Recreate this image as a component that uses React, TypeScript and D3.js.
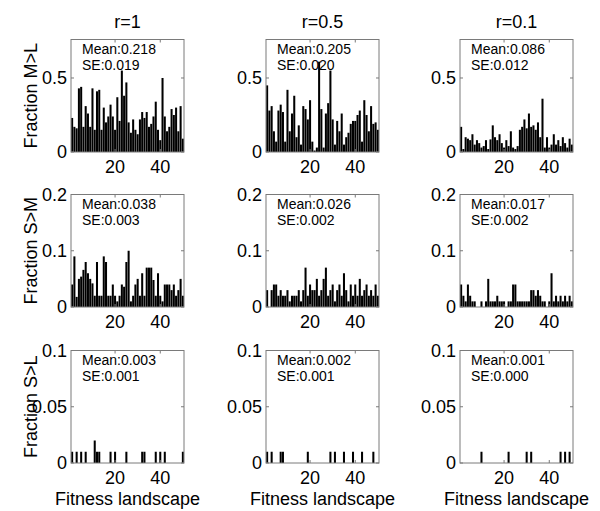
import * as d3 from "d3";

// fitness landscapes 1..50
const landscapes = d3.range(1, 51);

const columnTitles = ["r=1", "r=0.5", "r=0.1"];
const rowLabels = ["Fraction M>L", "Fraction S>M", "Fraction S>L"];
const rowMax = [0.76, 0.2, 0.1];
const rowTicks = [[0, 0.5], [0, 0.1, 0.2], [0, 0.05, 0.1]];
const xTicks = [20, 40];

// Fraction M>L
const mlR1 = [0.23, 0.17, 0.16, 0.43, 0.44, 0.17, 0.31, 0.26, 0.17, 0.43, 0.15, 0.41, 0.42, 0.15, 0.30, 0.20, 0.24, 0.32, 0.24, 0.15, 0.37, 0.21, 0.55, 0.38, 0.47, 0.20, 0.13, 0.22, 0.15, 0.12, 0.22, 0.27, 0.23, 0.27, 0.17, 0.19, 0.24, 0.34, 0.15, 0.08, 0.50, 0.24, 0.14, 0.17, 0.29, 0.25, 0.30, 0.14, 0.31, 0.09];
const mlR05 = [0.45, 0.28, 0.31, 0.14, 0.07, 0.28, 0.32, 0.27, 0.07, 0.42, 0.14, 0.26, 0.38, 0.10, 0.18, 0.05, 0.31, 0.29, 0.22, 0.35, 0.07, 0.01, 0.03, 0.61, 0.29, 0.03, 0.26, 0.33, 0.55, 0.22, 0.05, 0.21, 0.14, 0.26, 0.05, 0.10, 0.13, 0.19, 0.21, 0.21, 0.25, 0.28, 0.07, 0.35, 0.25, 0.14, 0.31, 0.19, 0.20, 0.15];
const mlR01 = [0.17, 0.02, 0.10, 0.09, 0.08, 0.12, 0.05, 0.08, 0.06, 0.03, 0.04, 0.08, 0.02, 0.085, 0.18, 0.10, 0.08, 0.12, 0.06, 0.03, 0.08, 0.04, 0.14, 0.03, 0.02, 0.04, 0.15, 0.17, 0.22, 0.16, 0.26, 0.17, 0.18, 0.15, 0.20, 0.10, 0.36, 0.03, 0.10, 0.03, 0.05, 0.12, 0.05, 0.08, 0.04, 0.10, 0.06, 0.03, 0.09, 0.05];

// Fraction S>M
const smR1 = [0.04, 0.09, 0.018, 0.05, 0.054, 0.066, 0.08, 0.06, 0.05, 0.042, 0.02, 0.08, 0.02, 0.02, 0.09, 0.08, 0.02, 0.02, 0.04, 0.02, 0.01, 0.02, 0.04, 0.036, 0.08, 0.10, 0.01, 0.02, 0.04, 0.05, 0.02, 0.06, 0.02, 0.07, 0.07, 0.07, 0.048, 0.02, 0.06, 0.02, 0.01, 0.04, 0.04, 0.04, 0.03, 0.04, 0.02, 0.03, 0.05, 0.02];
const smR05 = [0.03, 0.0, 0.03, 0.04, 0.04, 0.02, 0.03, 0.02, 0.02, 0.03, 0.01, 0.02, 0.02, 0.02, 0.03, 0.01, 0.03, 0.07, 0.02, 0.04, 0.03, 0.03, 0.05, 0.02, 0.03, 0.05, 0.07, 0.02, 0.03, 0.04, 0.01, 0.03, 0.04, 0.02, 0.06, 0.03, 0.01, 0.04, 0.02, 0.04, 0.02, 0.05, 0.02, 0.03, 0.04, 0.02, 0.03, 0.02, 0.04, 0.02];
const smR01 = [0.04, 0.02, 0.01, 0.04, 0.02, 0.01, 0.01, 0, 0, 0.01, 0, 0.01, 0.05, 0.01, 0.01, 0.01, 0.02, 0.01, 0.01, 0.01, 0, 0.01, 0.01, 0.04, 0.04, 0.01, 0.01, 0.01, 0.01, 0.01, 0.01, 0.03, 0.03, 0.02, 0.03, 0.02, 0.01, 0.01, 0, 0.01, 0.06, 0.01, 0.02, 0.01, 0.02, 0.01, 0.02, 0.01, 0.02, 0.01];

// Fraction S>L
const slR1 = [0.01, 0, 0.01, 0, 0.01, 0, 0.01, 0, 0, 0, 0.02, 0.01, 0.01, 0, 0, 0, 0, 0.01, 0, 0.01, 0, 0, 0, 0, 0.01, 0, 0, 0, 0, 0, 0, 0.01, 0.01, 0, 0, 0, 0, 0.01, 0, 0.01, 0, 0.01, 0, 0, 0, 0, 0, 0, 0, 0.01];
const slR05 = [0.01, 0, 0.01, 0, 0, 0, 0.01, 0.01, 0, 0, 0, 0, 0, 0, 0, 0, 0, 0, 0.01, 0, 0, 0, 0, 0, 0, 0, 0, 0, 0.01, 0, 0.01, 0, 0, 0, 0.01, 0, 0, 0, 0.01, 0, 0, 0, 0.01, 0, 0, 0, 0, 0.01, 0, 0];
const slR01 = [0, 0, 0, 0, 0, 0, 0, 0, 0, 0.01, 0, 0, 0, 0, 0, 0, 0, 0, 0, 0, 0, 0.01, 0, 0, 0, 0, 0, 0, 0, 0.01, 0, 0.01, 0, 0, 0, 0, 0, 0, 0, 0, 0, 0, 0, 0, 0.01, 0, 0.01, 0, 0.01, 0];

const panelValues = [
  [mlR1, mlR05, mlR01],
  [smR1, smR05, smR01],
  [slR1, slR05, slR01],
];
const meanLabels = [
  ["Mean:0.218", "Mean:0.205", "Mean:0.086"],
  ["Mean:0.038", "Mean:0.026", "Mean:0.017"],
  ["Mean:0.003", "Mean:0.002", "Mean:0.001"],
];
const seLabels = [
  ["SE:0.019", "SE:0.020", "SE:0.012"],
  ["SE:0.003", "SE:0.002", "SE:0.002"],
  ["SE:0.001", "SE:0.001", "SE:0.000"],
];

const W = 600;
const H = 511;
const colLeft = [71, 266, 460];
const rowTop = [39.5, 194.5, 350.5];
const panelW = 113;
const panelH = 112.5;
const font = "'Liberation Sans', Arial, Helvetica, sans-serif";
const frame = "#7a7a7a";

function Panel({ row, col }: { row: number; col: number }) {
  const left = colLeft[col];
  const top = rowTop[row];
  const bottom = top + panelH;
  const right = left + panelW;
  const x = d3.scaleLinear().domain([0.5, 50.5]).range([left, right]);
  const y = d3.scaleLinear().domain([0, rowMax[row]]).range([bottom, top]);
  const values = panelValues[row][col];
  const half = 0.45;

  return (
    <g>
      <text x={left + 11} y={top + 14} fontSize={14} fontFamily={font} fill="#000">
        {meanLabels[row][col]}
      </text>
      <text x={left + 11} y={top + 30} fontSize={14} fontFamily={font} fill="#000">
        {seLabels[row][col]}
      </text>
      {landscapes.map((k, i) =>
        values[i] > 0 ? (
          <rect
            key={k}
            x={x(k - half)}
            y={y(values[i])}
            width={x(k + half) - x(k - half)}
            height={y(0) - y(values[i])}
            fill="#000"
          />
        ) : null
      )}
      <rect x={left} y={top} width={panelW} height={panelH} fill="none" stroke={frame} strokeWidth={1} />
      {rowTicks[row].map((t) => (
        <g key={t}>
          <line x1={left} x2={left + 3} y1={y(t)} y2={y(t)} stroke={frame} />
          <line x1={right} x2={right - 3} y1={y(t)} y2={y(t)} stroke={frame} />
          <text x={left - 4} y={y(t) + 6} textAnchor="end" fontSize={18} fontFamily={font} fill="#000">
            {t}
          </text>
        </g>
      ))}
      {xTicks.map((t) => (
        <g key={t}>
          <line x1={x(t)} x2={x(t)} y1={bottom} y2={bottom - 3} stroke={frame} />
          <line x1={x(t)} x2={x(t)} y1={top} y2={top + 3} stroke={frame} />
          <text x={x(t)} y={bottom + 21} textAnchor="middle" fontSize={18} fontFamily={font} fill="#000">
            {t}
          </text>
        </g>
      ))}
      {row === 0 && (
        <text x={(left + right) / 2} y={28} textAnchor="middle" fontSize={18} fontFamily={font} fill="#000">
          {columnTitles[col]}
        </text>
      )}
      {row === 2 && (
        <text x={(left + right) / 2} y={bottom + 42} textAnchor="middle" fontSize={18} fontFamily={font} fill="#000">
          Fitness landscape
        </text>
      )}
      {col === 0 && (
        <text
          transform={`translate(37,${(top + bottom) / 2}) rotate(-90)`}
          textAnchor="middle"
          fontSize={18}
          fontFamily={font}
          fill="#000"
        >
          {rowLabels[row]}
        </text>
      )}
    </g>
  );
}

export default function App() {
  return (
    <svg width={W} height={H} style={{ display: "block", position: "absolute", left: 0, top: 0, background: "#fff" }}>
      <rect width={W} height={H} fill="#fff" />
      {[0, 1, 2].map((row) =>
        [0, 1, 2].map((col) => <Panel key={`${row}-${col}`} row={row} col={col} />)
      )}
    </svg>
  );
}
